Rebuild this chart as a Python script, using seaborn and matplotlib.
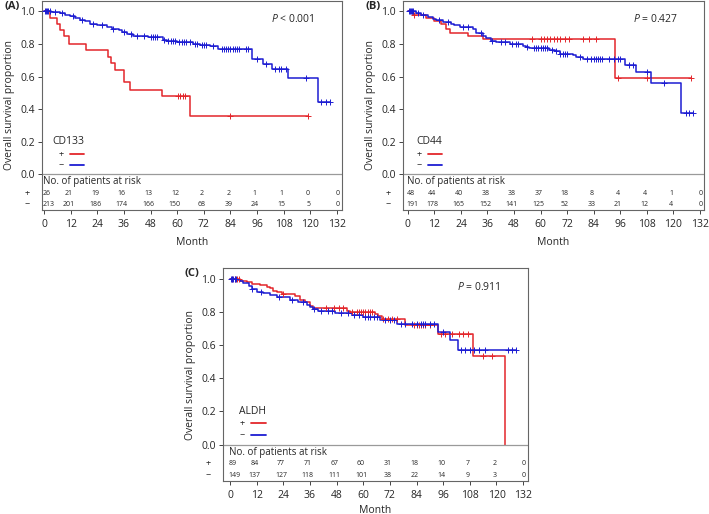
import numpy as np
import pandas as pd
import seaborn as sns
from matplotlib import pyplot as plt
from matplotlib.lines import Line2D

# ---- data ----
# (A) CD133
a_pos_t = [0, 2.8, 5.8, 7.0, 8.8, 11.5, 19, 28.8, 30.3, 31.9, 36.1, 38.8, 53.2, 65.8, 119]
a_pos_s = [1.0, 0.962, 0.923, 0.885, 0.846, 0.80, 0.76, 0.722, 0.682, 0.64, 0.564, 0.519, 0.479, 0.356, 0.356]
a_pos_c = [60.5, 61.5, 62.5, 63.5, 83.8, 119]
a_neg_t = [0, 3, 7.3, 9.6, 11.8, 14, 16.3, 18.6, 20.8, 23.8, 28.3, 30.6, 33.6, 35, 37.3, 40.3, 47,
           53.8, 55.3, 60, 67.3, 70.3, 74.8, 78.5, 93.5, 98.7, 102.5, 110, 123.5, 128.7]
a_neg_s = [1.0, 0.995, 0.99, 0.98, 0.97, 0.96, 0.95, 0.94, 0.925, 0.915, 0.905, 0.895, 0.885, 0.872,
           0.86, 0.85, 0.84, 0.825, 0.82, 0.815, 0.80, 0.795, 0.785, 0.77, 0.71, 0.68, 0.645, 0.59,
           0.445, 0.445]
a_neg_c = [0.5, 1, 1.5, 2, 2.5, 5, 8, 13, 17, 22, 26, 31, 36, 39, 42, 45, 48, 49, 50, 51, 54, 56, 57,
           58, 59, 61, 62, 63, 64, 66, 68, 69, 71, 72, 73, 76, 80, 81, 82, 83, 84, 85, 86, 87, 88, 91,
           92, 96, 100, 104, 106, 107, 109, 118, 125, 127, 128.7]
a_risk_pos = [26, 21, 19, 16, 13, 12, 2, 2, 1, 1, 0, 0]
a_risk_neg = [213, 201, 186, 174, 166, 150, 68, 39, 24, 15, 5, 0]

# (B) CD44
b_pos_t = [0, 2.3, 8.3, 12, 15, 17.3, 18.9, 27.2, 34, 93.8, 128]
b_pos_s = [1.0, 0.98, 0.958, 0.94, 0.92, 0.895, 0.87, 0.85, 0.83, 0.59, 0.59]
b_pos_c = [3, 56, 60, 61.5, 63, 64.5, 66, 67.5, 69, 71, 73, 79, 82, 85, 95, 108, 128]
b_neg_t = [0, 3.8, 6, 9, 11.3, 12.8, 15.8, 19.6, 21, 23.4, 29.4, 31, 34, 35.5, 37.7, 40, 46, 52,
           53.6, 55, 64, 66.4, 68.6, 74.7, 76.2, 79.2, 98, 103, 110, 123.7, 129]
b_neg_s = [1.0, 0.99, 0.98, 0.965, 0.955, 0.945, 0.935, 0.925, 0.915, 0.905, 0.89, 0.87, 0.85,
           0.835, 0.82, 0.81, 0.80, 0.79, 0.78, 0.775, 0.765, 0.755, 0.74, 0.73, 0.72, 0.705, 0.668,
           0.625, 0.56, 0.373, 0.373]
b_neg_c = [0.5, 1, 1.5, 2, 2.5, 4.5, 7, 14, 18, 25, 27, 33, 38, 42, 44, 47, 49, 50, 54, 57, 58, 59,
           60, 61, 62, 63, 65, 67, 69, 70, 71, 72, 78, 81, 83, 84, 85, 86, 87, 88, 91, 93, 95, 96,
           100, 102, 108, 116, 126, 127, 129]
b_risk_pos = [48, 44, 40, 38, 38, 37, 18, 8, 4, 4, 1, 0]
b_risk_neg = [191, 178, 165, 152, 141, 125, 52, 33, 21, 12, 4, 0]

# (C) ALDH
c_pos_t = [0, 4.5, 7.5, 9.8, 13.5, 16.5, 18, 19.5, 21, 23.3, 29.3, 31.5, 33.8, 36, 37.5, 52.5, 54,
           65.3, 66.8, 68.3, 78.8, 93.8, 109.5, 123.8]
c_pos_s = [1.0, 0.99, 0.98, 0.97, 0.965, 0.955, 0.945, 0.93, 0.92, 0.91, 0.895, 0.875, 0.86, 0.84,
           0.825, 0.81, 0.80, 0.79, 0.775, 0.76, 0.72, 0.67, 0.535, 0.0]
c_pos_c = [1, 2, 3, 4, 24, 43, 47, 49, 51, 55, 57, 58, 59, 60, 61, 62, 63, 64, 69, 71, 73, 75, 83,
           84, 85, 86, 87, 88, 90, 95, 97, 100, 103, 105, 107, 114, 118]
c_neg_t = [0, 3, 4.5, 6, 8.3, 9.8, 12, 15, 18, 21, 27, 30.8, 34.5, 36, 37.5, 39.8, 47.3, 54.8, 60,
           67.5, 75, 93.8, 99, 102.8, 129]
c_neg_s = [1.0, 0.995, 0.99, 0.975, 0.96, 0.94, 0.925, 0.915, 0.905, 0.89, 0.875, 0.86, 0.845, 0.83,
           0.82, 0.81, 0.795, 0.78, 0.77, 0.755, 0.73, 0.68, 0.63, 0.57, 0.57]
c_neg_c = [0.5, 1, 1.5, 2, 2.5, 10, 14, 22, 28, 33, 38, 41, 44, 46, 50, 53, 56, 58, 61, 62, 63, 65,
           66, 70, 72, 74, 77, 79, 82, 84, 86, 87, 88, 90, 92, 96, 104, 106, 108, 110, 112, 115,
           125, 127, 129]
c_risk_pos = [89, 84, 77, 71, 67, 60, 31, 18, 10, 7, 2, 0]
c_risk_neg = [149, 137, 127, 118, 111, 101, 38, 22, 14, 9, 3, 0]

months = list(range(0, 133, 12))
p_texts = ["< 0.001", "= 0.427", "= 0.911"]
markers = ["CD133", "CD44", "ALDH"]
panel_tags = ["(A)", "(B)", "(C)"]

RED = "#e3262b"
BLUE = "#1c1cd2"

sns.set_theme(style="ticks")
plt.rcParams["font.family"] = ["Open Sans", "DejaVu Sans"]
plt.rcParams["mathtext.fontset"] = "custom"
plt.rcParams["mathtext.it"] = "Open Sans:italic"
plt.rcParams["mathtext.rm"] = "Open Sans"


def censor_y(t, s, c):
    idx = np.searchsorted(t, c, side="right") - 1
    return np.array(s)[idx]


def km_panel(ax, curves, risk_pos, risk_neg, name, ptxt, tag, xlim, xpad=5):
    for t, s, c, col in curves:
        df = pd.DataFrame({"month": t, "surv": s})
        sns.lineplot(data=df, x="month", y="surv", ax=ax, color=col, lw=1.1,
                     drawstyle="steps-post", estimator=None, sort=False)
        cf = pd.DataFrame({"month": c, "surv": censor_y(t, s, c)})
        sns.scatterplot(data=cf, x="month", y="surv", ax=ax, color=col, marker="+",
                        s=14, linewidth=0.7, zorder=3)

    ax.axhline(0, color="#9a9a9a", lw=0.9)
    ax.set_xlim(*xlim)
    ax.set_ylim(-0.22, 1.067)
    ax.set_xticks(months)
    ax.set_yticks([0, 0.2, 0.4, 0.6, 0.8, 1.0])
    ax.set_yticklabels(["0.0", "0.2", "0.4", "0.6", "0.8", "1.0"])
    ax.tick_params(labelsize=7.5, length=3, width=0.7, color="#444444", pad=2)
    ax.tick_params(axis="x", pad=3.5)
    for sp in ax.spines.values():
        sp.set_visible(True)
        sp.set_color("#666666")
        sp.set_linewidth(0.8)
    ax.set_xlabel("Month", fontsize=7.5, labelpad=xpad)
    ax.set_ylabel("Overall survival proportion", fontsize=7.5, labelpad=4)

    # risk table inside the axes
    ax.text(-0.3, -0.045, "No. of patients at risk", fontsize=7, va="center", ha="left")
    for row, vals in ((-0.116, risk_pos), (-0.189, risk_neg)):
        for i, (m, v) in enumerate(zip(months, vals)):
            if i == 0:
                ax.text(-0.6, row, str(v), fontsize=5, va="center", ha="left")
            elif i == len(months) - 1:
                ax.text(m + 1.2, row, str(v), fontsize=5, va="center", ha="right")
            else:
                ax.text(m - 1, row, str(v), fontsize=5, va="center", ha="center")
    trans = ax.get_yaxis_transform()
    ax.text(-0.05, -0.116, "+", fontsize=6.5, va="center", ha="center", transform=trans)
    ax.text(-0.05, -0.189, "\u2212", fontsize=6.5, va="center", ha="center", transform=trans)

    ax.text(112, 0.955, "$P$ " + ptxt, fontsize=7.5, ha="center", va="center")

    handles = [Line2D([], [], color=RED, lw=1.3), Line2D([], [], color=BLUE, lw=1.3)]
    ax.legend(handles, ["+", "\u2212"], title=name, markerfirst=False, frameon=False,
              loc="upper left", bbox_to_anchor=(3.8, 0.232), bbox_transform=ax.transData,
              borderpad=0, borderaxespad=0, fontsize=6.5, title_fontsize=7.5,
              alignment="right", handlelength=1.6, handletextpad=0.7, labelspacing=0.25)

    ax.text(-0.125, 1.0, tag, transform=ax.transAxes, fontsize=8, fontweight="bold",
            ha="left", va="top")


fig = plt.figure(figsize=(7.09, 5.14), dpi=100)
axA = fig.add_axes([0.0592, 0.5914, 0.4230, 0.4076])
axB = fig.add_axes([0.5684, 0.5914, 0.4245, 0.4076])
axC = fig.add_axes([0.3145, 0.0642, 0.4302, 0.4144])

km_panel(axA, [(a_pos_t, a_pos_s, a_pos_c, RED), (a_neg_t, a_neg_s, a_neg_c, BLUE)],
         a_risk_pos, a_risk_neg, markers[0], p_texts[0], panel_tags[0], (-0.9, 134.2))
km_panel(axB, [(b_pos_t, b_pos_s, b_pos_c, RED), (b_neg_t, b_neg_s, b_neg_c, BLUE)],
         b_risk_pos, b_risk_neg, markers[1], p_texts[1], panel_tags[1], (-2.2, 133.9))
km_panel(axC, [(c_pos_t, c_pos_s, c_pos_c, RED), (c_neg_t, c_neg_s, c_neg_c, BLUE)],
         c_risk_pos, c_risk_neg, markers[2], p_texts[2], panel_tags[2], (-3.2, 134.2), xpad=2.5)

fig.savefig("out.png", dpi=100)
